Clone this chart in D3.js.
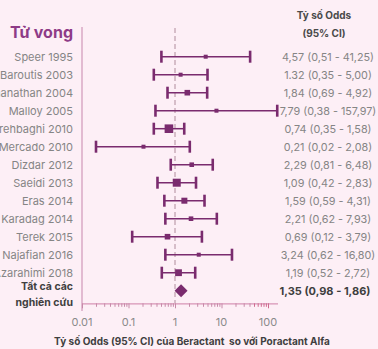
<!DOCTYPE html>
<html>
<head>
<meta charset="utf-8">
<script src="https://cdn.jsdelivr.net/npm/d3@7/dist/d3.min.js"></script>
<style>
  html, body { margin: 0; padding: 0; background: #fdeff6; }
  svg { display: block; font-family: Inter, "Noto Sans", sans-serif; }
</style>
</head>
<body>
<svg id="chart" width="378" height="349"></svg>
<script>
// Studies comparing mortality, Beractant vs Poractant Alfa
const studies = ["Speer 1995", "Baroutis 2003", "Ramanathan 2004", "Malloy 2005",
  "Gharehbaghi 2010", "Mercado 2010", "Dizdar 2012", "Saeidi 2013", "Eras 2014",
  "Karadag 2014", "Terek 2015", "Najafian 2016", "Azarahimi 2018"];
const oddsRatio = [4.57, 1.32, 1.84, 7.79, 0.74, 0.21, 2.29, 1.09, 1.59, 2.21, 0.69, 3.24, 1.19];
const ciLow     = [0.51, 0.35, 0.69, 0.38, 0.35, 0.02, 0.81, 0.42, 0.59, 0.62, 0.12, 0.62, 0.52];
const ciHigh    = [41.25, 5.00, 4.92, 157.97, 1.58, 2.08, 6.48, 2.83, 4.31, 7.93, 3.79, 16.80, 2.72];
const weights   = [2, 2, 2.8, 2, 4.3, 2, 2.3, 4, 3, 2.3, 2.8, 2, 3.4];
const ciLabels  = ["4,57 (0,51 - 41,25)", "1.32 (0,35 - 5,00)", "1,84 (0,69 - 4,92)",
  "7,79 (0,38 - 157,97)", "0,74 (0,35 - 1,58)", "0,21 (0,02 - 2,08)", "2,29 (0,81 - 6,48)",
  "1,09 (0,42 - 2,83)", "1,59 (0,59 - 4,31)", "2,21 (0,62 - 7,93)", "0,69 (0,12 - 3,79)",
  "3,24 (0,62 - 16,80)", "1,19 (0,52 - 2,72)"];
const pooled = { or: 1.35, low: 0.98, high: 1.86, label: "1,35 (0,98 - 1,86)" };
const tickLabels = [0.01, 0.1, 1, 10, 100];

const purple = "#7a2b6e";
const svg = d3.select("#chart");

const x = d3.scaleLog().domain([0.01, 160]).range([82, 277.5]);
const y = d3.scaleLinear().domain([0, studies.length]).range([56.7, 290.7]);

// axis ticks: every 1..9 step of each decade from 0.01 to 100
const minorTicks = [];
for (let e = -2; e <= 1; e++) for (let m = 1; m <= 9; m++) minorTicks.push(m * Math.pow(10, e));
minorTicks.push(100);

// left separator
svg.append("line").attr("x1", 82).attr("x2", 82).attr("y1", 27).attr("y2", 311)
  .attr("stroke", "#d9a9c4").attr("stroke-width", 1.5);

// line of no effect
svg.append("line").attr("x1", x(1)).attr("x2", x(1)).attr("y1", 28).attr("y2", 303)
  .attr("stroke", "#b08c9c").attr("stroke-width", 1).attr("stroke-dasharray", "5,3");

// x axis
const axis = d3.axisBottom(x).tickValues(minorTicks).tickSizeOuter(0);
const gAxis = svg.append("g").attr("transform", "translate(0,303.3)").call(axis);
gAxis.select(".domain").attr("stroke", "#d795b6").attr("stroke-width", 1.2);
gAxis.selectAll(".tick line")
  .attr("stroke", d => (d >= 50 ? "#cf6a8f" : "#c78aa9"))
  .attr("y2", d => tickLabels.some(t => Math.abs(t - d) < 1e-9) ? 5 : 3.5);
gAxis.selectAll(".tick text").remove();
svg.append("g").selectAll("text").data(tickLabels).join("text")
  .attr("x", d => x(d)).attr("y", 326).attr("text-anchor", "middle")
  .attr("font-size", 11).attr("fill", "#8a8a8a").text(d => String(d));

// title and study labels
svg.append("text").attr("x", 73).attr("y", 38).attr("text-anchor", "end")
  .attr("font-size", 16).attr("font-weight", 700).attr("fill", "#8e3b87").text("Tử vong");
svg.append("g").selectAll("text").data(studies).join("text")
  .attr("x", 73).attr("y", (d, i) => y(i) + 4).attr("text-anchor", "end")
  .attr("font-size", 11).attr("fill", "#858585").text(d => d);
svg.append("text").attr("x", 73).attr("y", 290).attr("text-anchor", "end")
  .attr("font-size", 10.5).attr("font-weight", 700).attr("fill", "#3f3f3f").text("Tất cả các");
svg.append("text").attr("x", 73).attr("y", 306).attr("text-anchor", "end")
  .attr("font-size", 10.5).attr("font-weight", 700).attr("fill", "#3f3f3f").text("nghiên cứu");

// confidence intervals
const rows = svg.append("g").selectAll("g").data(studies).join("g")
  .attr("transform", (d, i) => `translate(0,${y(i)})`);
rows.append("line").attr("x1", (d, i) => x(ciLow[i])).attr("x2", (d, i) => x(ciHigh[i]))
  .attr("stroke", purple).attr("stroke-width", 1.5);
rows.append("line").attr("x1", (d, i) => x(ciLow[i])).attr("x2", (d, i) => x(ciLow[i]))
  .attr("y1", -6).attr("y2", 6).attr("stroke", purple).attr("stroke-width", 2.6);
rows.append("line").attr("x1", (d, i) => x(ciHigh[i])).attr("x2", (d, i) => x(ciHigh[i]))
  .attr("y1", -6).attr("y2", 6).attr("stroke", purple).attr("stroke-width", 2.6);
rows.append("rect")
  .attr("x", (d, i) => x(oddsRatio[i]) - weights[i])
  .attr("y", (d, i) => -weights[i])
  .attr("width", (d, i) => 2 * weights[i]).attr("height", (d, i) => 2 * weights[i])
  .attr("fill", purple);

// pooled estimate diamond
const yp = y(studies.length);
svg.append("path")
  .attr("d", `M${x(pooled.low)},${yp} L${x(pooled.or)},${yp - 6.5} L${x(pooled.high)},${yp} L${x(pooled.or)},${yp + 6.5} Z`)
  .attr("fill", purple);

// right-hand column
svg.append("text").attr("x", 324).attr("y", 19).attr("text-anchor", "middle")
  .attr("font-size", 10).attr("font-weight", 700).attr("fill", "#4a4a4a").text("Tỷ số Odds");
svg.append("text").attr("x", 324).attr("y", 37).attr("text-anchor", "middle")
  .attr("font-size", 10).attr("font-weight", 700).attr("fill", "#4a4a4a").text("(95% CI)");
svg.append("g").selectAll("text").data(ciLabels).join("text")
  .attr("x", 328).attr("y", (d, i) => y(i) + 4).attr("text-anchor", "middle")
  .attr("font-size", 10.8).attr("fill", "#858585").text(d => d);
svg.append("text").attr("x", 325).attr("y", yp + 4).attr("text-anchor", "middle")
  .attr("font-size", 11).attr("font-weight", 700).attr("fill", "#3f3f3f").text(pooled.label);

// axis title
svg.append("text").attr("x", 192).attr("y", 345).attr("text-anchor", "middle")
  .attr("font-size", 10).attr("font-weight", 700).attr("fill", "#3f3f3f")
  .attr("xml:space", "preserve")
  .text("Tỷ số Odds (95% CI) của Beractant  so với Poractant Alfa");
</script>
</body>
</html>
